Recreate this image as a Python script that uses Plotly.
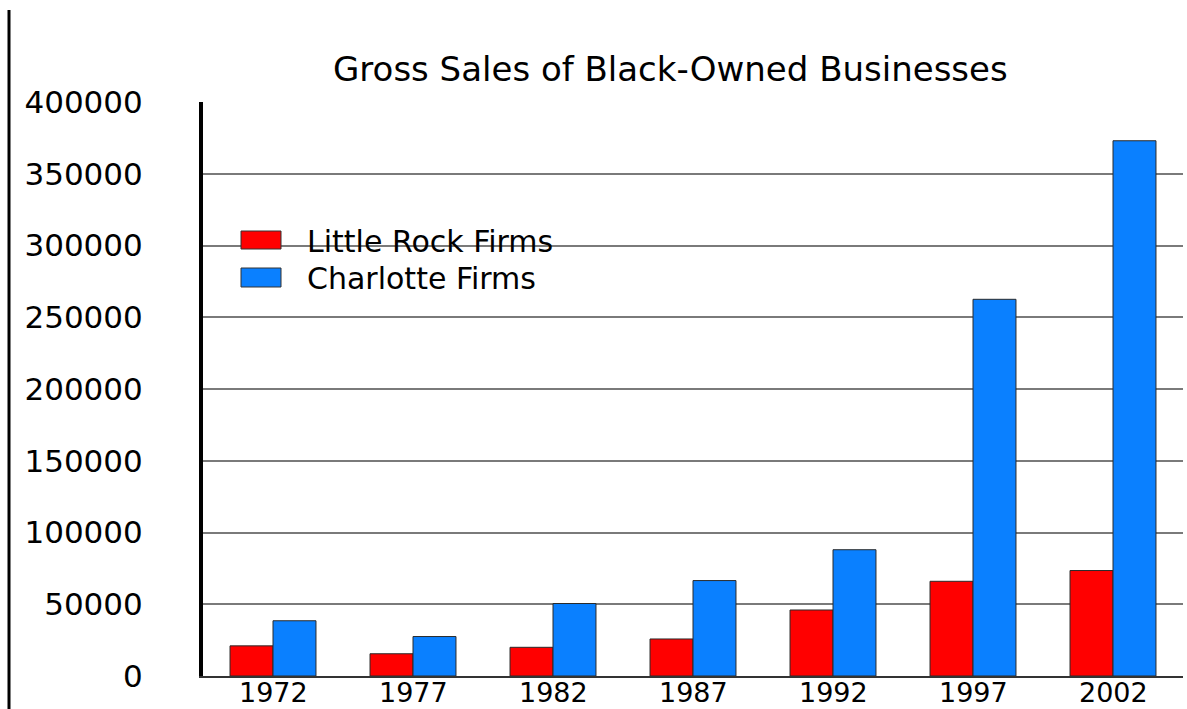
import plotly.graph_objects as go

years = ["1972", "1977", "1982", "1987", "1992", "1997", "2002"]
little_rock = [21000, 15500, 20000, 25800, 46000, 66000, 73500]
charlotte = [38500, 27500, 50500, 66500, 88000, 262500, 373000]
series_names = ["Little Rock Firms", "Charlotte Firms"]
y_ticks = [0, 50000, 100000, 150000, 200000, 250000, 300000, 350000, 400000]
title_text = "Gross Sales of Black-Owned Businesses"

W, H = 1187, 709
L, R, T, B = 203, 4, 102, 33
PW, PH = W - L - R, H - T - B


def px(x):
    return (x - L) / PW


def py(y):
    return (H - B - y) / PH


RED = "#FF0000"
BLUE = "#0A80FF"
FONT = "DejaVu Sans"

fig = go.Figure()
fig.add_trace(go.Bar(x=years, y=little_rock, name=series_names[0],
                     marker=dict(color=RED, line=dict(color="#2a2a2a", width=1)),
                     showlegend=False))
fig.add_trace(go.Bar(x=years, y=charlotte, name=series_names[1],
                     marker=dict(color=BLUE, line=dict(color="#2a2a2a", width=1)),
                     showlegend=False))

shapes = [
    # stray left border line
    dict(type="line", xref="paper", yref="paper", x0=px(9), x1=px(9), y0=py(10), y1=py(712),
         line=dict(color="black", width=3)),
    # legend swatches
    dict(type="rect", xref="paper", yref="paper", x0=px(241), x1=px(281), y0=py(249), y1=py(231),
         fillcolor=RED, line=dict(color="#333", width=1), layer="above"),
    dict(type="rect", xref="paper", yref="paper", x0=px(241), x1=px(281), y0=py(287), y1=py(268),
         fillcolor=BLUE, line=dict(color="#333", width=1), layer="above"),
]

annotations = [
    dict(text=title_text, xref="paper", yref="paper", x=px(670), y=py(69),
         xanchor="center", yanchor="middle", showarrow=False,
         font=dict(family=FONT, size=34, color="black")),
    dict(text=series_names[0], xref="paper", yref="paper", x=px(306), y=py(241),
         xanchor="left", yanchor="middle", showarrow=False, borderpad=0,
         font=dict(family=FONT, size=30, color="black")),
    dict(text=series_names[1], xref="paper", yref="paper", x=px(306), y=py(278),
         xanchor="left", yanchor="middle", showarrow=False, borderpad=0,
         font=dict(family=FONT, size=30, color="black")),
]
# category labels under the x axis (category index positions)
for i, yr in enumerate(years):
    annotations.append(dict(text=yr, xref="x", yref="paper", x=i, y=py(692),
                            xanchor="center", yanchor="middle", showarrow=False,
                            borderpad=0,
                            font=dict(family=FONT, size=27, color="black")))

fig.update_layout(
    width=W, height=H,
    margin=dict(l=L, r=R, t=T, b=B, autoexpand=False),
    paper_bgcolor="white", plot_bgcolor="white",
    barmode="group", bargap=0.386, bargroupgap=0,
    showlegend=False,
    shapes=shapes, annotations=annotations,
    font=dict(family=FONT, color="black"),
)

fig.update_yaxes(
    range=[0, 400000], tickvals=y_ticks, ticktext=[str(v) for v in y_ticks],
    showgrid=True, gridcolor="#7a7a7a", gridwidth=2,
    zeroline=False, showline=True, linecolor="black", linewidth=4,
    ticks="", ticklabelstandoff=50, automargin=False,
    tickfont=dict(family=FONT, size=31, color="black"),
)
fig.update_xaxes(
    type="category", categoryorder="array", categoryarray=years,
    range=[-0.5, len(years) - 0.5],
    showgrid=False, zeroline=False, showline=True, linecolor="#333", linewidth=2,
    ticks="", showticklabels=False, automargin=False,
)

fig.write_html("out.html")
